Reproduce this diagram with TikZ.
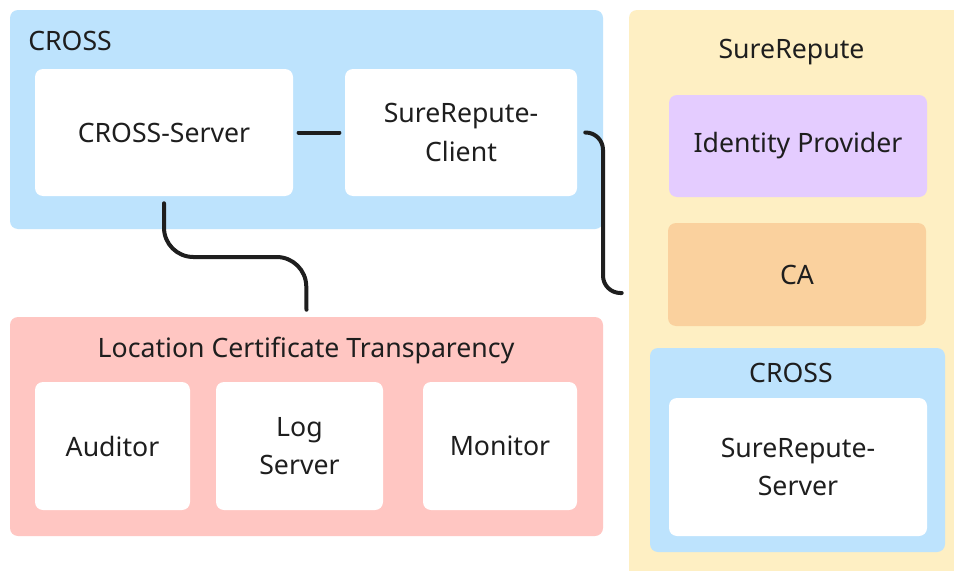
\documentclass[tikz,border=0pt]{standalone}
\usepackage{fontspec}
\setmainfont{Noto Sans}
\definecolor{cblue}{HTML}{BDE3FD}
\definecolor{cyel}{HTML}{FEEFC3}
\definecolor{cpurp}{HTML}{E4CCFF}
\definecolor{corange}{HTML}{FAD19E}
\definecolor{cpink}{HTML}{FFC6C2}
\definecolor{ctext}{HTML}{1E1E1E}
\begin{document}
\begin{tikzpicture}[x=0.75pt,y=-0.75pt,
  box/.style={rectangle,rounded corners=6pt,inner sep=0pt,text=ctext,font=\fontsize{20}{29}\selectfont,align=center},
  whitebox/.style={box,fill=white},
  title/.style={text=ctext,font=\fontsize{20}{24}\selectfont,inner sep=0pt},
  conn/.style={line width=3pt,draw=ctext,line cap=round,rounded corners=22pt}]
\useasboundingbox (0,0) rectangle (954,571);
\fill[white] (0,0) rectangle (954,571);
\begin{scope}
\clip (0,0) rectangle (954,571);
\node[box,fill=cyel,minimum width=249.75pt,minimum height=427.5pt] (sr) at (795.5,295) {};
\end{scope}
\node[box,fill=cblue,minimum width=444.75pt,minimum height=164.25pt] (cross1) at (306.5,119.5) {};
\node[whitebox,minimum width=193.5pt,minimum height=95.25pt] (srv) at (164,132.5) {CROSS-Server};
\node[whitebox,minimum width=174pt,minimum height=95.25pt] (cli) at (461,132.5) {SureRepute-\\Client};
\node[title,anchor=west] (t1) at (28,41) {CROSS};

\node[title] (t2) at (791.5,52) {SureRepute};
\node[box,fill=cpurp,minimum width=193.5pt,minimum height=76.5pt] (idp) at (798,146) {Identity Provider};
\node[box,fill=corange,minimum width=193.5pt,minimum height=77.25pt] (ca) at (797,274.5) {CA};
\node[box,fill=cblue,minimum width=221.25pt,minimum height=153pt] (cross2) at (797.5,450) {};
\node[title] (t3) at (791,373) {CROSS};
\node[whitebox,minimum width=193.5pt,minimum height=103.5pt] (srs) at (798,467) {SureRepute-\\Server};

\node[box,fill=cpink,minimum width=444.75pt,minimum height=164.25pt] (lct) at (306.5,426.5) {};
\node[title] (t4) at (306,350) {Location Certificate Transparency};
\node[whitebox,minimum width=116.25pt,minimum height=96pt] (aud) at (112.5,446) {Auditor};
\node[whitebox,minimum width=125.25pt,minimum height=96pt] (log) at (299.5,446) {Log\\Server};
\node[whitebox,minimum width=115.5pt,minimum height=96pt] (mon) at (500,446) {Monitor};

\draw[conn] ([xshift=4pt]srv.east) -- ([xshift=-4pt]cli.west);
\draw[conn] ([yshift=-5.25pt]srv.south) |- (306,257) -- ([yshift=5.25pt]lct.north);
\draw[conn,rounded corners=13pt] ([xshift=6pt]cli.east) -| (603,293) -- ([xshift=-5.25pt]sr.west |- 0,293);
\end{tikzpicture}
\end{document}
